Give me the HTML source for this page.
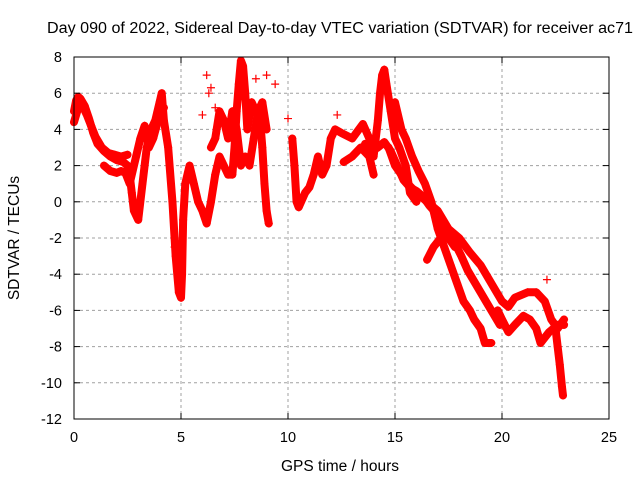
<!DOCTYPE html>
<html><head><meta charset="utf-8"><style>
body{margin:0;background:#fff;}
svg{display:block;font-family:"Liberation Sans",sans-serif;}
</style></head><body>
<svg id="chart" width="640" height="480" viewBox="0 0 640 480">
<rect width="640" height="480" fill="#fff"/>
<text x="340" y="33" font-size="15.5" text-anchor="middle" fill="#000" textLength="586" lengthAdjust="spacingAndGlyphs">Day 090 of 2022, Sidereal Day-to-day VTEC variation (SDTVAR) for receiver ac71</text>
<g id="grid"></g>
<g id="data"></g>
<rect x="74" y="57" width="535" height="362" fill="none" stroke="#000" stroke-width="1"/>
<g id="axes"></g>
<text x="340" y="471" font-size="15.5" text-anchor="middle">GPS time / hours</text>
<text transform="translate(19,238) rotate(-90)" font-size="15.5" text-anchor="middle">SDTVAR / TECUs</text>
</svg>
<script>
const xTicks=[0,5,10,15,20,25];
const yTicks=[8,6,4,2,0,-2,-4,-6,-8,-10,-12];
const traceA_t=[0,0.1,0.2,0.3,0.5,0.7,0.9,1.1,1.4,1.7,2.0,2.3,2.5,2.6,2.7,2.8,3.0,3.2,3.4,3.6,3.8,4.0,4.1,4.2,4.4,4.6,4.75,4.9,5.0,5.05,5.1,5.2,5.4,5.6,5.8,6.0,6.2,6.4,6.6,6.8,7.0,7.2,7.4,7.5,7.6,7.7,7.8,7.9,8.0,8.1,8.3,8.5,8.7,8.8,8.9,9.0,9.1];
const traceA_v=[5.0,5.6,5.8,5.7,5.3,4.6,3.8,3.2,2.8,2.5,2.3,2.2,2.0,1.5,0.5,-0.5,-1.0,1.0,3.0,4.0,4.5,5.5,6.0,4.5,3.0,0,-3,-5,-5.3,-4,-1,1,2,1,0,-0.5,-1.2,0,1.5,2.5,2,1.5,1.5,3,5,6.5,7.8,7.5,6,4,5.5,5,4.5,3,1,-0.5,-1.2];
const traceA2_t=[0,0.2,0.4,0.6,0.8,1.0,1.3,1.6,1.9,2.2,2.5];
const traceA2_v=[4.4,5.2,5.3,4.8,4.2,3.6,3.0,2.7,2.6,2.5,2.6];
const traceB_t=[1.4,1.7,2.0,2.2,2.4,2.6,2.9,3.1,3.3,3.5,3.7,4.0,4.2];
const traceB_v=[2.0,1.7,1.6,1.7,1.6,1.0,2.5,3.5,4.2,3.0,3.5,4.8,5.2];
const traceC_t=[6.4,6.6,6.8,7.0,7.2,7.4,7.6,7.8,8.0,8.2,8.4,8.6,8.8,9.0];
const traceC_v=[3.0,3.5,5.0,4.5,3.5,5.0,4.0,2.0,2.5,2.0,3.5,5.0,5.5,4.0];
const traceD_t=[10.2,10.3,10.4,10.5,10.8,11.0,11.2,11.4,11.6,11.8,12.0,12.2,12.5,13.0,13.5,13.8,14.0,14.2,14.3,14.4,14.5,14.6,14.8,15.0,15.2,15.5,15.7,16.0];
const traceD_v=[3.5,2.0,0,-0.3,0.5,0.8,1.5,2.5,1.5,2,3.5,4,3.8,3.5,4.3,3.5,2.5,4.5,6,7,7.3,6.5,5,3.5,3.0,2.0,0.5,0.0];
const traceE_t=[15.0,15.3,15.5,15.8,16.1,16.4,16.7,17.0,17.3,17.6,17.9,18.2,18.5,18.7,19.0,19.2,19.5];
const traceE_v=[5.5,4,3.5,2.5,1.7,1,0,-1.5,-2.5,-3.5,-4.5,-5.5,-6,-6.5,-7,-7.8,-7.8];
const traceF_t=[14.7,15.0,15.3,15.6,16.0,16.5,17.0,17.5,18.0,18.5,19.0,19.5,20.0,20.3,20.6,21.2,21.6,22.0,22.3,22.6,22.9];
const traceF_v=[3,2,1.5,1,0.5,0,-0.5,-1.5,-2,-2.8,-3.5,-4.5,-5.5,-5.8,-5.3,-5.0,-5.0,-5.5,-6.5,-7,-6.5];
const traceG_t=[19.8,20.0,20.3,20.6,21.0,21.3,21.6,21.8,22.0,22.2,22.6,22.9];
const traceG_v=[-6.0,-6.5,-7.2,-6.8,-6.3,-6.5,-7,-7.8,-7.5,-7.2,-6.8,-6.8];
const traceH_t=[22.5,22.6,22.7,22.8,22.85];
const traceH_v=[-7,-8,-9,-10.2,-10.7];
const traceI_t=[16.5,16.8,17.2,17.5,17.8];
const traceI_v=[-3.2,-2.5,-1.9,-2.0,-2.5];
const traceJ_t=[12.6,13.0,13.4,13.8,14.0];
const traceJ_v=[2.2,2.5,3,2.5,1.5];
const traceK_t=[13.6,13.9,14.2,14.5,14.8,15.1,15.4,15.7,16.0,16.3,16.6,16.9,17.2,17.5,17.8,18.1,18.4,18.7,19.0,19.3,19.6,19.9];
const traceK_v=[3.2,2.8,3.0,3.3,2.8,2.0,1.2,0.8,0.6,0.3,-0.2,-0.6,-1.2,-1.8,-2.3,-3.0,-3.8,-4.4,-5.0,-5.6,-6.2,-6.8];
const scatter_t=[6.2,6.3,6.6,6.0,9.0,9.4,10.0,12.3,22.1,4.7,5.0,3.9,6.4,7.3,8.5];
const scatter_v=[7.0,6.0,5.2,4.8,7.0,6.5,4.6,4.8,-4.3,-2.5,-2.8,5.0,6.3,4.2,6.8];

const X=t=>74+t*21.4;
const Y=v=>201.8-v*18.1;
const NS='http://www.w3.org/2000/svg';
const grid=document.getElementById('grid'),axes=document.getElementById('axes'),data=document.getElementById('data');
function mk(tag,attrs,parent){const e=document.createElementNS(NS,tag);for(const k in attrs)e.setAttribute(k,attrs[k]);parent.appendChild(e);return e;}
xTicks.forEach(t=>{
  const x=X(t);
  if(t>0&&t<25){const g=mk('line',{x1:x,y1:57,x2:x,y2:419,stroke:'#a0a0a0','stroke-dasharray':'3,3'},grid);
  
  }
  mk('line',{x1:x,y1:419,x2:x,y2:413,stroke:'#000'},axes);
  mk('line',{x1:x,y1:57,x2:x,y2:63,stroke:'#000'},axes);
  const l=mk('text',{x:x,y:442,'font-size':14.5,'text-anchor':'middle'},axes);l.textContent=t;
  
  
});
yTicks.forEach(v=>{
  const y=Y(v);
  if(v<8&&v>-12){const g=mk('line',{x1:74,y1:y,x2:609,y2:y,stroke:'#a0a0a0','stroke-dasharray':'3,3'},grid);
  
  }
  mk('line',{x1:74,y1:y,x2:80,y2:y,stroke:'#000'},axes);
  mk('line',{x1:609,y1:y,x2:603,y2:y,stroke:'#000'},axes);
  const l=mk('text',{x:62,y:y+5,'font-size':14.5,'text-anchor':'end'},axes);l.textContent=v;
  
  
});
const traces=[[traceA_t,traceA_v],[traceA2_t,traceA2_v],[traceB_t,traceB_v],[traceC_t,traceC_v],[traceD_t,traceD_v],[traceE_t,traceE_v],[traceF_t,traceF_v],[traceG_t,traceG_v],[traceH_t,traceH_v],[traceI_t,traceI_v],[traceJ_t,traceJ_v],[traceK_t,traceK_v]];
traces.forEach((tr,i)=>{
  const pts=tr[0].map((t,j)=>X(t)+','+Y(tr[1][j])).join(' ');
  const pl=mk('polyline',{points:pts,fill:'none',stroke:'#ff0000','stroke-width':8,'stroke-linejoin':'round','stroke-linecap':'round'},data);
  
  
});
function plus(t,v){
  const x=X(t),y=Y(v);
  const p=mk('path',{d:`M${x-4},${y}H${x+4}M${x},${y-4}V${y+4}`,stroke:'#ff0000','stroke-width':1.2},data);
  
  
}
traces.forEach(tr=>tr[0].forEach((t,j)=>plus(t,tr[1][j])));
scatter_t.forEach((t,j)=>plus(t,scatter_v[j]));
</script>
</body></html>
